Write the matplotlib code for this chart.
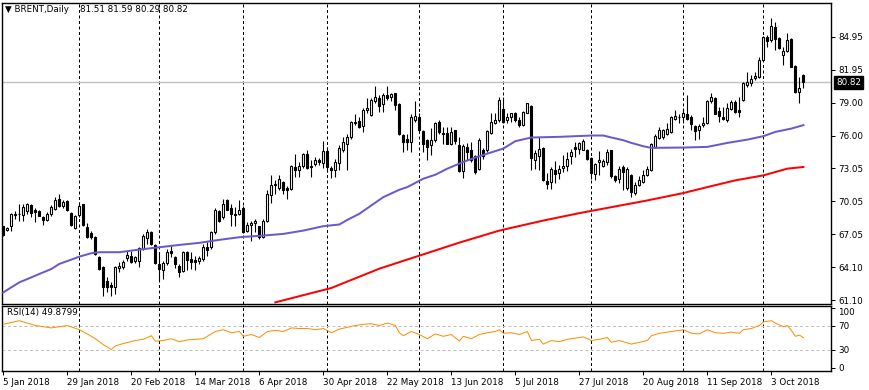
import numpy as np
import pandas as pd
import matplotlib
matplotlib.use("Agg")
import matplotlib.pyplot as plt
import matplotlib.transforms as mtransforms

# ---- data ----
opens = [
    67.77, 67.47, 67.80, 68.80, 68.86, 68.83, 69.16, 69.68, 69.28, 69.16,
    68.62, 68.37, 68.92, 69.37, 70.28, 69.59, 70.07, 68.98, 67.65, 68.77,
    69.77, 67.71, 67.16, 66.86, 65.04, 64.13, 62.86, 62.50, 62.31, 64.01,
    64.13, 64.92, 65.13, 64.62, 64.62, 65.74, 66.74, 67.25, 66.10, 64.38,
    63.83, 64.44, 65.59, 65.04, 64.22, 63.71, 65.43, 64.80, 64.74, 64.68,
    64.83, 65.89, 65.89, 67.25, 69.16, 68.62, 70.19, 69.47, 68.92, 68.86,
    69.47, 67.40, 67.95, 68.07, 67.77, 66.86, 68.25, 70.59, 71.50, 71.28,
    71.80, 71.28, 71.19, 73.16, 72.92, 73.22, 74.37, 73.28, 73.40, 73.77,
    73.53, 74.62, 73.10, 72.92, 73.53, 74.68, 75.28, 75.89, 77.16, 77.34,
    76.86, 78.31, 77.86, 79.16, 79.37, 78.86, 79.68, 79.53, 79.83, 78.86,
    76.04, 75.74, 75.43, 77.46, 77.71, 76.43, 75.58, 75.13, 75.58, 77.25,
    76.25, 76.25, 75.22, 76.49, 75.13, 72.80, 74.98, 74.74, 74.13, 73.01,
    74.68, 74.68, 76.25, 77.16, 77.40, 78.37, 77.46, 77.65, 78.01, 77.46,
    76.95, 78.07, 78.68, 73.83, 74.13, 74.92, 71.89, 71.80, 72.92, 72.61,
    73.10, 73.22, 74.13, 74.98, 74.83, 74.74, 74.74, 74.01, 72.49, 73.61,
    73.22, 73.61, 74.68, 72.31, 72.10, 73.16, 71.28, 72.40, 70.80, 71.50,
    71.80, 72.40, 72.86, 74.98, 75.83, 75.88, 76.19, 76.34, 77.55, 77.71,
    77.71, 78.00, 77.71, 76.86, 76.49, 76.95, 77.10, 79.16, 79.37, 78.25,
    77.71, 77.40, 78.37, 79.07, 78.31, 79.22, 80.58, 80.80, 81.19, 81.34,
    82.86, 84.92, 84.68, 85.83, 84.83, 83.31, 83.71, 84.74, 82.31, 79.98,
    81.51]
highs = [
    67.86, 67.71, 68.98, 69.13, 69.77, 69.83, 69.89, 69.77, 69.47, 69.28,
    68.68, 69.07, 69.68, 70.43, 70.74, 70.13, 70.13, 69.07, 68.77, 69.98,
    69.83, 68.07, 67.40, 66.95, 65.13, 64.22, 63.16, 62.70, 64.22, 64.52,
    64.74, 65.53, 65.59, 65.13, 65.89, 67.10, 67.56, 67.40, 66.19, 65.43,
    64.68, 65.74, 66.04, 65.13, 64.38, 65.53, 65.53, 65.43, 65.13, 65.13,
    66.19, 66.34, 67.40, 69.47, 69.28, 70.28, 70.28, 69.77, 69.53, 70.19,
    69.59, 68.16, 68.31, 68.47, 67.86, 68.47, 71.04, 72.40, 71.95, 72.40,
    71.89, 71.40, 73.31, 74.31, 73.62, 74.43, 74.68, 73.77, 74.07, 74.01,
    75.52, 74.98, 73.22, 73.92, 75.13, 75.89, 76.19, 77.34, 77.95, 77.65,
    78.46, 79.37, 79.37, 80.49, 79.68, 79.83, 80.49, 79.89, 79.89, 78.92,
    76.19, 76.19, 77.95, 79.16, 78.01, 76.49, 75.74, 76.65, 77.25, 77.46,
    76.74, 76.80, 76.74, 76.55, 75.89, 75.22, 75.34, 75.43, 74.22, 75.83,
    74.92, 76.55, 78.07, 78.07, 79.53, 79.53, 78.07, 78.07, 78.16, 77.65,
    78.25, 78.98, 78.77, 74.68, 75.89, 74.98, 72.61, 73.16, 73.71, 73.31,
    74.22, 74.52, 74.83, 75.43, 75.43, 75.74, 74.83, 74.07, 73.52, 74.61,
    73.92, 74.83, 74.74, 72.40, 73.22, 73.31, 73.16, 72.55, 71.80, 72.31,
    72.86, 73.22, 75.34, 76.19, 76.80, 76.64, 77.10, 77.77, 78.31, 77.95,
    78.46, 79.67, 77.86, 76.95, 77.04, 77.71, 79.22, 79.83, 79.46, 78.61,
    78.61, 78.92, 79.22, 79.22, 79.46, 80.89, 81.80, 81.49, 81.80, 83.16,
    85.04, 85.13, 86.64, 86.25, 84.92, 84.01, 85.34, 84.83, 82.40, 81.34,
    81.59]
lows = [
    66.95, 67.35, 67.35, 68.47, 68.31, 68.25, 68.92, 68.62, 68.16, 68.68,
    67.95, 68.25, 68.74, 69.22, 69.53, 69.47, 69.16, 67.86, 67.56, 68.62,
    67.86, 66.74, 66.65, 65.22, 63.83, 61.50, 61.80, 61.50, 61.65, 63.62,
    63.92, 64.68, 64.44, 64.44, 64.07, 65.65, 66.19, 66.13, 64.38, 62.86,
    63.01, 64.31, 65.04, 64.01, 63.16, 63.62, 63.83, 63.92, 63.83, 64.38,
    64.68, 65.13, 65.74, 67.10, 68.16, 68.47, 69.22, 67.86, 67.86, 68.77,
    67.16, 67.25, 66.50, 67.25, 66.65, 66.74, 68.16, 69.89, 70.74, 71.10,
    70.74, 70.28, 71.10, 72.25, 72.25, 73.10, 73.01, 72.25, 73.22, 73.31,
    73.10, 72.70, 72.19, 72.25, 72.92, 74.52, 72.86, 75.74, 76.95, 76.65,
    76.34, 78.07, 77.77, 78.98, 78.16, 78.16, 79.22, 79.16, 78.31, 76.04,
    74.52, 74.68, 74.52, 77.25, 76.49, 74.52, 73.77, 74.22, 75.43, 76.19,
    75.28, 75.22, 75.13, 75.28, 72.70, 72.19, 73.77, 73.62, 72.55, 72.92,
    73.92, 74.52, 76.19, 77.04, 77.25, 77.10, 77.10, 77.25, 77.25, 76.80,
    76.86, 78.01, 72.92, 73.01, 72.86, 71.89, 71.19, 71.19, 71.71, 72.10,
    72.70, 72.80, 73.46, 74.07, 74.37, 74.68, 73.83, 72.10, 71.95, 72.40,
    73.16, 73.31, 72.19, 71.80, 71.71, 71.10, 71.04, 70.43, 70.58, 71.40,
    71.71, 72.31, 72.80, 74.92, 75.74, 75.73, 76.04, 76.25, 77.46, 77.10,
    77.10, 77.46, 76.55, 75.58, 75.73, 76.80, 77.04, 78.92, 77.95, 77.25,
    77.40, 77.25, 78.31, 78.07, 77.71, 79.16, 80.37, 80.49, 81.04, 81.19,
    82.80, 84.07, 84.52, 83.77, 83.83, 82.40, 83.61, 82.19, 79.89, 78.98,
    80.29]
closes = [
    67.04, 67.65, 68.92, 68.92, 68.92, 69.53, 69.77, 69.01, 69.07, 68.74,
    68.37, 68.92, 69.53, 70.19, 69.59, 69.98, 69.22, 67.95, 68.68, 69.59,
    67.95, 66.86, 66.86, 65.28, 63.92, 62.31, 62.31, 62.25, 64.13, 64.22,
    64.52, 65.22, 64.52, 64.98, 65.80, 66.95, 67.25, 66.19, 64.44, 63.92,
    64.44, 65.43, 65.35, 64.38, 63.62, 65.43, 64.74, 64.59, 64.59, 64.89,
    65.95, 65.65, 67.25, 69.28, 68.25, 69.77, 69.28, 68.86, 68.80, 69.28,
    67.25, 67.95, 68.07, 68.31, 66.80, 68.31, 70.68, 71.50, 71.65, 72.10,
    71.04, 71.10, 73.22, 72.92, 73.22, 74.31, 73.10, 73.16, 73.83, 73.62,
    74.62, 73.16, 72.92, 73.62, 74.92, 75.43, 75.89, 77.25, 77.25, 76.80,
    78.31, 78.46, 79.22, 79.47, 78.68, 79.68, 79.37, 79.77, 78.77, 76.13,
    75.43, 75.43, 77.65, 77.77, 76.55, 75.22, 74.98, 75.58, 77.16, 76.34,
    76.13, 75.28, 76.34, 75.52, 72.80, 75.04, 74.52, 73.77, 72.70, 75.58,
    74.13, 76.43, 77.25, 77.40, 79.22, 77.25, 77.71, 78.01, 77.46, 76.95,
    78.16, 78.92, 74.01, 74.43, 74.83, 71.95, 71.65, 73.01, 72.55, 73.01,
    73.22, 73.92, 74.52, 74.83, 75.34, 75.52, 73.92, 72.61, 73.40, 73.83,
    73.71, 74.52, 72.31, 71.95, 73.01, 72.70, 73.01, 70.89, 71.50, 71.95,
    72.40, 73.01, 75.28, 75.95, 76.55, 76.55, 76.64, 77.65, 77.77, 77.65,
    78.07, 77.55, 77.04, 76.43, 76.86, 77.10, 79.16, 79.46, 78.00, 77.77,
    77.55, 78.46, 79.07, 78.16, 78.16, 80.74, 80.89, 81.10, 81.40, 82.86,
    84.92, 84.61, 85.95, 84.74, 83.92, 83.70, 84.68, 82.25, 79.98, 80.28,
    80.82]

# moving averages (blue = slow MA, red = 200-day MA), sampled along the bars
blue_ma_bars = [0, 2, 4, 7, 9, 12, 14, 17, 19, 22, 24, 29, 34, 39, 44, 49, 54, 59,
                65, 70, 75, 80, 84, 86, 89, 92, 95, 99, 101, 105, 108, 111, 115,
                118, 121, 125, 128, 132, 139, 147, 150, 152, 155, 157, 160, 162,
                170, 176, 181, 186, 190, 193, 197, 200]
blue_ma_vals = [61.80, 62.26, 62.71, 63.16, 63.47, 63.92, 64.38, 64.77, 65.04,
                65.35, 65.44, 65.44, 65.68, 65.89, 66.10, 66.29, 66.56, 66.80,
                66.95, 67.10, 67.40, 67.80, 67.95, 68.37, 68.92, 69.68, 70.43,
                71.10, 71.34, 72.10, 72.46, 73.01, 73.62, 74.01, 74.37, 74.83,
                75.50, 75.83, 75.89, 76.01, 76.01, 75.83, 75.58, 75.34, 75.04,
                74.89, 74.92, 74.98, 75.34, 75.64, 75.95, 76.34, 76.64, 76.95]
red_ma_bars = [68, 82, 94, 104, 114, 124, 135, 144, 161, 170, 176, 183, 190, 196, 200]
red_ma_vals = [60.90, 62.20, 63.95, 65.13, 66.31, 67.40, 68.31, 68.98, 70.13,
               70.80, 71.34, 71.95, 72.40, 73.01, 73.16]

rsi_bars = [0, 4, 8, 12, 16, 19, 21, 23, 25, 27, 28, 30, 33, 35, 37, 38, 40, 42,
            44, 46, 50, 53, 55, 57, 59, 60, 62, 64, 66, 68, 70, 72, 74, 76, 78,
            80, 82, 84, 86, 88, 90, 92, 94, 96, 98, 99, 100, 102, 104, 106, 108,
            110, 112, 114, 115, 117, 119, 121, 123, 124, 125, 127, 129, 131, 132,
            134, 135, 137, 139, 141, 143, 145, 147, 149, 151, 152, 154, 157, 159,
            161, 162, 164, 166, 168, 170, 172, 174, 176, 178, 180, 182, 184, 185,
            187, 189, 190, 192, 193, 195, 196, 197, 198, 199, 200]
rsi_vals = [72, 78, 70, 66, 70, 63, 56, 48, 38, 30, 36, 40, 45, 47, 53, 44, 45,
            48, 43, 46, 48, 60, 63, 58, 60, 52, 55, 50, 60, 62, 60, 66, 65, 65,
            63, 65, 58, 64, 67, 70, 72, 73, 70, 74, 70, 58, 53, 60, 55, 48, 56,
            52, 55, 44, 52, 48, 55, 58, 60, 63, 57, 58, 55, 60, 45, 47, 39, 45,
            43, 47, 49, 51, 45, 47, 50, 42, 45, 39, 42, 45, 53, 57, 59, 61, 63,
            57, 56, 63, 58, 57, 59, 57, 63, 65, 70, 76, 78, 74, 68, 70, 62, 52,
            54, 49.88]
rsi_last = 49.8799

price_ticks = [61.10, 64.10, 67.05, 70.05, 73.05, 76.00, 79.00, 81.95, 84.95]
rsi_ticks = [0, 30, 70, 100]

# trading days (Good Friday missing)
dates = pd.bdate_range("2018-01-05", "2018-10-15")
dates = dates[dates != pd.Timestamp("2018-03-30")]

o = np.array(opens)
h = np.array(highs)
l = np.array(lows)
c = np.array(closes)
x = np.arange(len(c))

plt.rcParams['font.family'] = 'DejaVu Sans'
FS = 6.3
PX = 0.72  # one pixel in points

fig = plt.figure(figsize=(8.7, 3.9), dpi=100)
W, H = 870.0, 390.0
ax = fig.add_axes([2 / W, 1 - 304 / H, 829 / W, 301.3 / H])
rax = fig.add_axes([2 / W, 1 - 371 / H, 829 / W, 65 / H])

# month separators
sep = [i for i in range(1, len(dates)) if dates[i].month != dates[i - 1].month]
for a in (ax, rax):
    for i in sep:
        a.axvline(i, color='black', lw=PX, ls=(0, (3, 2.5)), zorder=1)

# bid line
ax.axhline(c[-1], color='#C0C0C0', lw=1.0, zorder=1)

# candles
up = c >= o
ax.vlines(x, l, h, color='black', lw=PX * 1.1, zorder=2)
ax.bar(x[up], np.maximum(c[up] - o[up], 0.02), bottom=o[up], width=0.55,
       color='white', edgecolor='black', lw=PX * 1.1, zorder=3)
ax.bar(x[~up], o[~up] - c[~up], bottom=c[~up], width=0.55,
       color='black', edgecolor='black', lw=PX * 1.1, zorder=3)

# moving averages
ax.plot(blue_ma_bars, blue_ma_vals, color='#6A5ACD', lw=2.0 * PX, zorder=4)
ax.plot(red_ma_bars, red_ma_vals, color='#FF0000', lw=2.0 * PX, zorder=4)

ax.set_xlim(-0.33, 206.9)
ax.set_ylim(60.75, 88.04)
ax.set_xticks([])
ax.yaxis.tick_right()
ax.set_yticks(price_ticks)
ax.set_yticklabels([f"{v:.2f}" for v in price_ticks])
ax.tick_params(axis='y', length=3, width=PX, pad=2, labelsize=FS, colors='black')

# current price box
trans = mtransforms.blended_transform_factory(ax.transAxes, ax.transData)
ax.text(1.0 + 5 / 829, c[-1], f"{c[-1]:.2f}", transform=trans, ha='left',
        va='center', fontsize=FS, color='white',
        bbox=dict(facecolor='black', edgecolor='black', pad=1.6))

# header
fig.text(5 / W, 1 - 10 / H, "\u25bc BRENT,Daily", fontsize=FS, va='center', ha='left')
fig.text(80 / W, 1 - 10 / H,
         f"{opens[-1]:.2f} {highs[-1]:.2f} {lows[-1]:.2f} {closes[-1]:.2f}",
         fontsize=FS, va='center', ha='left')

# RSI pane
for lvl in (70, 30):
    rax.axhline(lvl, color='#C0C0C0', lw=PX, ls=(0, (3, 2.5)), zorder=1)
rax.plot(rsi_bars, rsi_vals, color='#FF8C00', lw=PX, zorder=3)
rax.set_xlim(-0.33, 206.9)
rax.set_ylim(-5.8, 102.5)
rax.yaxis.tick_right()
rax.set_yticks(rsi_ticks)
rax.set_yticklabels([str(v) for v in rsi_ticks])
rax.tick_params(axis='y', length=3, width=PX, pad=2, labelsize=FS, colors='black')
rax.get_yticklabels()[-1].set_va('top')
rax.text(5 / 829, 0.9, f"RSI(14) {rsi_last:.4f}", transform=rax.transAxes,
         fontsize=FS, va='center', ha='left')

lab_idx = list(range(0, len(dates), 16))
rax.set_xticks(lab_idx)
rax.set_xticklabels([f"{dates[i].day} {dates[i]:%b %Y}" for i in lab_idx])
rax.tick_params(axis='x', length=3, width=PX, pad=2, labelsize=FS, colors='black')
for t in rax.get_xticklabels():
    t.set_ha('left')

for a in (ax, rax):
    for s in a.spines.values():
        s.set_linewidth(1.0)
        s.set_color('black')

fig.savefig("out.png", dpi=100)
